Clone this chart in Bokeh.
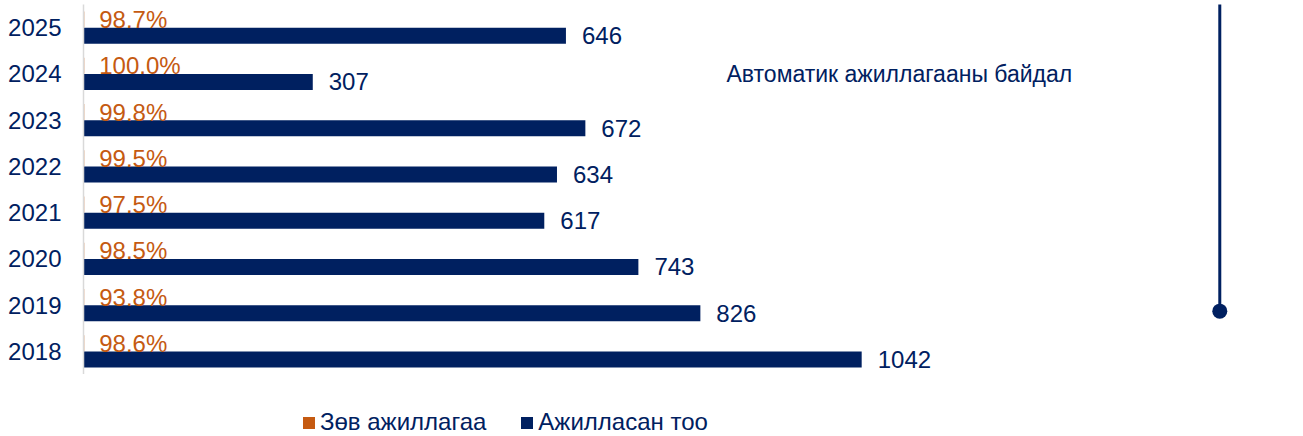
from bokeh.plotting import figure
from bokeh.layouts import column
from bokeh.models import (Range1d, FactorRange, Legend, LegendItem, Label,
                          ColumnDataSource, Arrow)
from bokeh.transform import dodge
from bokeh.core.properties import value
from bokeh.embed import file_html
from bokeh.resources import INLINE

# ---- data ----
years = ["2018", "2019", "2020", "2021", "2022", "2023", "2024", "2025"]
count_worked = [1042, 826, 743, 617, 634, 672, 307, 646]           # Ажилласан тоо
correct_pct = [98.6, 93.8, 98.5, 97.5, 99.5, 99.8, 100.0, 98.7]     # Зөв ажиллагаа, %
series_names = ["Зөв ажиллагаа", "Ажилласан тоо"]
title_text = "Автоматик ажиллагааны байдал"

NAVY = "#002060"
ORANGE = "#C55A11"
FONT = "Liberation Sans"

src = ColumnDataSource(dict(
    year=years,
    cnt=count_worked,
    pct_frac=[v / 100 for v in correct_pct],
    cnt_lbl=[str(v) for v in count_worked],
    pct_lbl=[f"{v:.1f}%" for v in correct_pct],
))

yr = FactorRange(factors=years, range_padding=0)
p = figure(width=1303, height=374, output_backend="svg", toolbar_location=None,
           x_range=Range1d(0, 1633.6), y_range=yr,
           x_axis_location=None, min_border_left=83, min_border_right=0,
           min_border_top=4, min_border_bottom=0)
p.outline_line_color = None
p.xgrid.visible = False
p.ygrid.visible = False
p.background_fill_color = "white"
p.border_fill_color = "white"

ax = p.yaxis[0]
ax.major_label_text_font = FONT
ax.major_label_text_font_size = "24px"
ax.major_label_text_color = NAVY
ax.major_label_standoff = 22
ax.major_tick_out = 0
ax.major_tick_in = 0
ax.major_tick_line_color = None
ax.minor_tick_line_color = None
ax.axis_line_color = "#D9D9D9"
ax.axis_line_width = 1.5

off = 0.175
h = 0.345
y_nv = dodge("year", -off, range=yr)
y_or = dodge("year", off, range=yr)

r_or = p.hbar(y=y_or, left=0, right="pct_frac", height=h, source=src,
              fill_color=ORANGE, line_color=None)
r_nv = p.hbar(y=y_nv, left=0, right="cnt", height=h, source=src,
              fill_color=NAVY, line_color=None)

p.text(x="cnt", y=y_nv, text="cnt_lbl", source=src, x_offset=16,
       text_baseline="middle", text_align="left", text_color=NAVY,
       text_font=value(FONT), text_font_size="24px")
p.text(x="pct_frac", y=y_or, text="pct_lbl", source=src, x_offset=15,
       text_baseline="middle", text_align="left", text_color=ORANGE,
       text_font=value(FONT), text_font_size="24px")

# decoration: title and vertical marker line with dot
p.add_layout(Label(x=861, y=6.49, text=title_text, text_font=FONT,
                   text_font_size="23px", text_color=NAVY, text_baseline="middle",
                   text_align="left"))
p.add_layout(Arrow(x_start=1521.5, y_start=1.37, x_end=1521.5, y_end=9.0,
                   end=None, line_color=NAVY, line_width=3))
p.scatter(x=[1521.5], y=[1.37], size=15, fill_color=NAVY, line_color=None)

# legend strip below the chart (legend swatches only; nothing visible drawn)
p2 = figure(width=1303, height=62, output_backend="svg", toolbar_location=None,
            x_range=Range1d(0, 1), y_range=Range1d(0, 1),
            x_axis_location=None, y_axis_location=None,
            min_border_left=0, min_border_right=0, min_border_top=0,
            min_border_bottom=0)
p2.outline_line_color = None
p2.xgrid.visible = False
p2.ygrid.visible = False
p2.background_fill_color = "white"
p2.border_fill_color = "white"
lg_or = p2.hbar(y=[-10], left=[0], right=[1], height=0.1, fill_color=ORANGE, line_color=None)
lg_nv = p2.hbar(y=[-10], left=[0], right=[1], height=0.1, fill_color=NAVY, line_color=None)

legend = Legend(items=[LegendItem(label=series_names[0], renderers=[lg_or]),
                       LegendItem(label=series_names[1], renderers=[lg_nv])],
                location=(218, 0), orientation="horizontal",
                label_text_font=FONT, label_text_font_size="24px",
                label_text_color=NAVY, glyph_width=15, glyph_height=15,
                label_standoff=4, spacing=33, padding=0, margin=0,
                border_line_color=None, background_fill_alpha=0,
                label_height=20)
p2.add_layout(legend, "center")

layout = column(p, p2, spacing=0)
open("out.html", "w").write(file_html(layout, INLINE))
